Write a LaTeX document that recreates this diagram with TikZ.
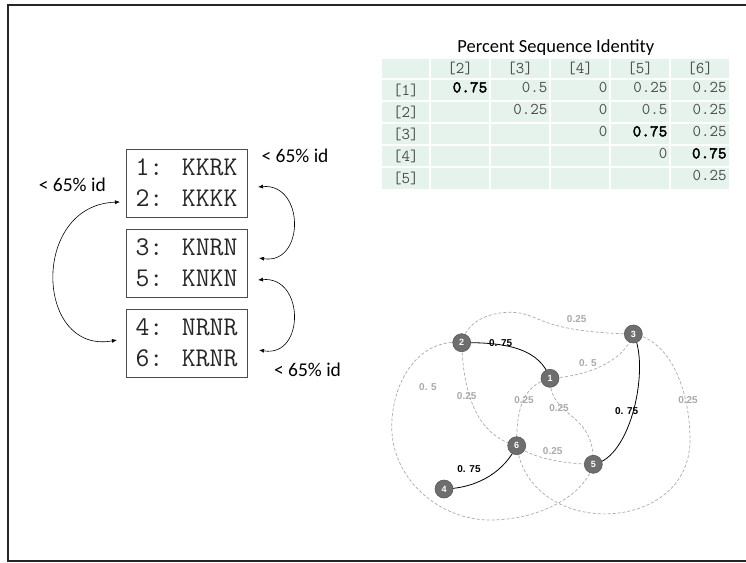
\documentclass[tikz,border=0pt]{standalone}
\usepackage{fontspec}
\setmainfont{Carlito}
\newfontfamily\arialf{Liberation Sans}
\newfontfamily\monobold[FakeBold=2.5]{lmmono10-regular.otf}
\usetikzlibrary{arrows.meta,backgrounds}
\definecolor{cellg}{RGB}{230,243,236}
\definecolor{edgeg}{RGB}{170,170,170}
\definecolor{nodeg}{RGB}{110,110,110}
\pgfdeclarelayer{bg}
\pgfsetlayers{bg,background,main}
\begin{document}
\begin{tikzpicture}[x=1pt,y=-1pt,
 seqbox/.style={draw=black!70, line width=0.9pt, minimum width=121pt, minimum height=68pt, inner sep=0pt, font=\ttfamily\fontsize{27}{31}\selectfont, align=left, text=black!85},
 idlabel/.style={font=\fontsize{19.5}{22}\selectfont, inner sep=0pt},
 dbl/.style={{Latex[length=5pt,width=4pt]}-{Latex[length=5pt,width=4pt]}, line width=0.6pt},
 gnode/.style={circle, fill=nodeg, draw=black!65, line width=0.6pt, minimum size=18pt, inner sep=0pt, text=white, font=\arialf\bfseries\fontsize{9}{9}\selectfont},
 solidedge/.style={black, line width=0.8pt},
 dashedge/.style={edgeg, line width=0.7pt, dash pattern=on 3pt off 2pt},
 blab/.style={font=\arialf\bfseries\fontsize{10}{10}\selectfont, text=black, inner sep=0pt},
 glab/.style={font=\arialf\bfseries\fontsize{10}{10}\selectfont, text=edgeg, inner sep=0pt},
 cell/.style={fill=cellg, draw=white, line width=1.5pt},
 tval/.style={font=\ttfamily\fontsize{16.5}{17}\selectfont, text=black!70, inner sep=0pt},
 tbold/.style={font=\monobold\fontsize{16.5}{17}\selectfont, text=black, inner sep=0pt},
]
\begin{pgfonlayer}{bg}
\fill[white] (0,0) rectangle (746,562);
\end{pgfonlayer}
\useasboundingbox (0,0) rectangle (746,562);
\begin{scope}
\clip (0,0) rectangle (746,562);
\draw[line width=2.2pt, black!85] (760,5) -- (8,5) -- (8,561) -- (760,561);
\end{scope}

% ---- sequence boxes ----
\node[seqbox] (b1) at (186.5,183) {1: KKRK\\2: KKKK};
\node[seqbox] (b2) at (186.5,263) {3: KNRN\\5: KNKN};
\node[seqbox] (b3) at (186.5,343) {4: NRNR\\6: KRNR};

\coordinate (a1s) at (258,187);
\coordinate (a1e) at (259,258);
\coordinate (a2s) at (258,280);
\coordinate (a2e) at (259,350);
\coordinate (a3s) at (120,202);
\coordinate (a3e) at (117,340);
\draw[dbl] (a1s) .. controls (305,183) and (305,265) .. (a1e);
\draw[dbl] (a2s) .. controls (305,276) and (305,358) .. (a2e);
\draw[dbl] (a3s) .. controls (30,205) and (35,355) .. (a3e);

\node[idlabel] (l1) at (295,156) {< 65\% id};
\node[idlabel] (l2) at (72.3,185) {< 65\% id};
\node[idlabel] (l3) at (307.5,370) {< 65\% id};

% ---- table ----
\node[font=\fontsize{18.5}{20}\selectfont, inner sep=0pt] (title) at (555.8,48) {Percent Sequence Identity};
\foreach \xa/\xb in {381.7/430,430/490,490/550,550/610,610/670,670/729.3}
  \foreach \ya/\yb in {58/79,79/101,101/123,123/145,145/167,167/190}
    \filldraw[cell] (\xa,\ya) rectangle (\xb,\yb);
\node[tval] (h2) at (460,68.5) {[2]};
\node[tval] (h3) at (520,68.5) {[3]};
\node[tval] (h4) at (580,68.5) {[4]};
\node[tval] (h5) at (640,68.5) {[5]};
\node[tval] (h6) at (700,68.5) {[6]};
\node[tval] (r1) at (405.8,90) {[1]};
\node[tval] (r2) at (405.8,112) {[2]};
\node[tval] (r3) at (405.8,134) {[3]};
\node[tval] (r4) at (405.8,156) {[4]};
\node[tval] (r5) at (405.8,178.5) {[5]};
% row 1
\node[tbold,anchor=mid east] (v12) at (487.5,90) {0.75};
\node[tval,anchor=mid east] (v13) at (547.5,90) {0.5};
\node[tval,anchor=mid east] (v14) at (607.5,90) {0};
\node[tval,anchor=mid east] (v15) at (667.5,90) {0.25};
\node[tval,anchor=mid east] (v16) at (726.8,90) {0.25};
% row 2
\node[tval,anchor=mid east] (v23) at (547.5,112) {0.25};
\node[tval,anchor=mid east] (v24) at (607.5,112) {0};
\node[tval,anchor=mid east] (v25) at (667.5,112) {0.5};
\node[tval,anchor=mid east] (v26) at (726.8,112) {0.25};
% row 3
\node[tval,anchor=mid east] (v34) at (607.5,134) {0};
\node[tbold,anchor=mid east] (v35) at (667.5,134) {0.75};
\node[tval,anchor=mid east] (v36) at (726.8,134) {0.25};
% row 4
\node[tval,anchor=mid east] (v45) at (667.5,156) {0};
\node[tbold,anchor=mid east] (v46) at (726.8,156) {0.75};
% row 5
\node[tval,anchor=mid east] (v56) at (726.8,178.5) {0.25};

% ---- graph ----
\node[gnode] (n1) at (550,378.3) {1};
\node[gnode] (n2) at (461.7,342.7) {2};
\node[gnode] (n3) at (633.3,334) {3};
\node[gnode] (n4) at (444,489) {4};
\node[gnode] (n5) at (593.3,464.3) {5};
\node[gnode] (n6) at (516.7,445.7) {6};

\begin{pgfonlayer}{background}
\draw[dashedge] (n2.center) .. controls (468,318) and (495,311) .. (515,312.5) .. controls (540,314) and (540,332) .. (n3.center);
\draw[dashedge] (n1.center) .. controls (590,376) and (625,360) .. (n3.center);
\draw[dashedge] (n2.center) .. controls (463,390) and (475,435) .. (n6.center);
\draw[dashedge] (n1.center) .. controls (525,385) and (516,405) .. (n6.center);
\draw[dashedge] (n1.center) .. controls (550,420) and (595,410) .. (n5.center);
\draw[dashedge] (n6.center) .. controls (535,460) and (570,464) .. (n5.center);
\draw[dashedge] (n3.center) .. controls (670,340) and (690,390) .. (690,440) .. controls (690,535) and (530,540) .. (n6.center);
\draw[dashedge] (n2.center) .. controls (420,338) and (392,380) .. (391.7,426.7) .. controls (392,480) and (440,520) .. (490,520) .. controls (540,520) and (585,495) .. (n5.center);
\draw[solidedge] (n2.center) .. controls (510,342) and (540,350) .. (n1.center);
\draw[solidedge] (n3.center) .. controls (650,365) and (632,458) .. (n5.center);
\draw[solidedge] (n6.center) .. controls (505,470) and (480,488) .. (n4.center);
\end{pgfonlayer}

\node[blab] (e21) at (500.7,342.7) {0. 75};
\node[blab] (e35) at (626.7,410.7) {0. 75};
\node[blab] (e64) at (469,469.3) {0. 75};
\node[glab] (e23) at (576.7,319) {0.25};
\node[glab] (e13) at (588,363) {0. 5};
\node[glab] (e26) at (466.7,395.7) {0.25};
\node[glab] (e16) at (524,400) {0.25};
\node[glab] (e15) at (559,408) {0.25};
\node[glab] (e65) at (552.7,450.7) {0.25};
\node[glab] (e36) at (688,400) {0.25};
\node[glab] (e25) at (428,387) {0. 5};
\end{tikzpicture}
\end{document}
